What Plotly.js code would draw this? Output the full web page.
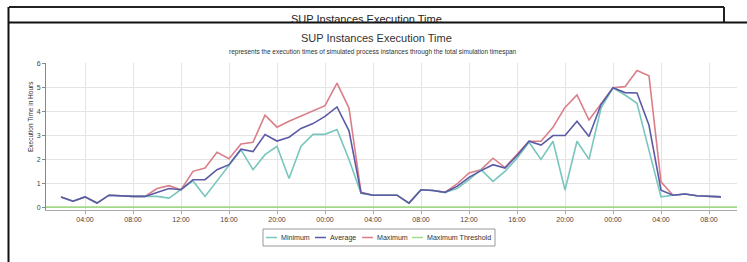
<!DOCTYPE html>
<html>
<head>
<meta charset="utf-8">
<script src="https://cdn.plot.ly/plotly-3.0.1.min.js"></script>
<style>html,body{margin:0;padding:0;background:#fff;}#chart{width:747px;height:262px;}</style>
</head>
<body>
<div id="chart"></div>
<script>
// ---- data ----
const times = [
'2020-01-01 02:00','2020-01-01 03:00','2020-01-01 04:00','2020-01-01 05:00','2020-01-01 06:00','2020-01-01 07:00',
'2020-01-01 08:00','2020-01-01 09:00','2020-01-01 10:00','2020-01-01 11:00','2020-01-01 12:00','2020-01-01 13:00',
'2020-01-01 14:00','2020-01-01 15:00','2020-01-01 16:00','2020-01-01 17:00','2020-01-01 18:00','2020-01-01 19:00',
'2020-01-01 20:00','2020-01-01 21:00','2020-01-01 22:00','2020-01-01 23:00',
'2020-01-02 00:00','2020-01-02 01:00','2020-01-02 02:00','2020-01-02 03:00','2020-01-02 04:00','2020-01-02 05:00',
'2020-01-02 06:00','2020-01-02 07:00','2020-01-02 08:00','2020-01-02 09:00','2020-01-02 10:00','2020-01-02 11:00',
'2020-01-02 12:00','2020-01-02 13:00','2020-01-02 14:00','2020-01-02 15:00','2020-01-02 16:00','2020-01-02 17:00',
'2020-01-02 18:00','2020-01-02 19:00','2020-01-02 20:00','2020-01-02 21:00','2020-01-02 22:00','2020-01-02 23:00',
'2020-01-03 00:00','2020-01-03 01:00','2020-01-03 02:00','2020-01-03 03:00','2020-01-03 04:00','2020-01-03 05:00',
'2020-01-03 06:00','2020-01-03 07:00','2020-01-03 08:00','2020-01-03 09:00'
];
const minimum = [
0.43,0.25,0.43,0.17,0.50,0.47,0.45,0.45,0.45,0.38,0.73,1.10,0.45,1.10,1.70,2.40,1.57,2.20,2.55,1.20,2.55,3.05,
3.05,3.25,2.00,0.58,0.50,0.50,0.50,0.17,0.73,0.70,0.62,0.78,1.15,1.57,1.08,1.50,2.05,2.72,2.00,2.76,0.72,2.76,2.00,4.15,
5.00,4.70,4.35,2.38,0.43,0.50,0.55,0.48,0.45,0.43
];
const average = [
0.43,0.25,0.43,0.17,0.50,0.47,0.45,0.45,0.62,0.78,0.73,1.15,1.15,1.57,1.78,2.43,2.33,3.04,2.77,2.93,3.30,3.50,
3.80,4.20,3.20,0.60,0.50,0.50,0.50,0.17,0.73,0.70,0.62,0.87,1.25,1.53,1.78,1.64,2.15,2.76,2.60,3.00,3.00,3.60,2.96,4.30,
5.00,4.80,4.78,3.43,0.71,0.50,0.55,0.48,0.45,0.43
];
const maximum = [
0.43,0.25,0.43,0.17,0.50,0.47,0.45,0.45,0.78,0.90,0.73,1.50,1.64,2.30,2.03,2.65,2.72,3.85,3.35,3.60,3.82,4.05,
4.25,5.20,4.15,0.62,0.50,0.50,0.50,0.17,0.73,0.70,0.62,0.97,1.43,1.57,2.05,1.66,2.20,2.76,2.76,3.35,4.18,4.70,3.65,4.35,
5.00,5.05,5.73,5.50,1.06,0.50,0.55,0.48,0.45,0.43
];
const thresholdTimes = ['2020-01-01 00:00','2020-01-03 12:00'];
const thresholdValues = [0, 0];
const seriesNames = ['Minimum','Average','Maximum','Maximum Threshold'];
const seriesColors = ['#78c6bc','#5b5aa6','#da7f89','#a3d98a'];
const yTicks = [0,1,2,3,4,5,6];

// ---- layout helpers (pixel -> paper) ----
const PL = 46, PR = 737, PT = 63, PB = 210;
const W = PR - PL, H = PB - PT;
const px = x => (x - PL) / W;
const py = y => (PB - y) / H;
const FONT = '"Liberation Sans", Arial, sans-serif';

const traces = [
  {x: times, y: maximum, name: seriesNames[2], mode: 'lines', line: {color: seriesColors[2], width: 1.6}},
  {x: times, y: minimum, name: seriesNames[0], mode: 'lines', line: {color: seriesColors[0], width: 1.6}},
  {x: times, y: average, name: seriesNames[1], mode: 'lines', line: {color: seriesColors[1], width: 1.6}},
  {x: thresholdTimes, y: thresholdValues, name: seriesNames[3], mode: 'lines', line: {color: seriesColors[3], width: 1.6}}
];

const shapes = [
  // outer box
  {type:'line', xref:'paper', yref:'paper', x0:px(9), x1:px(724), y0:py(7), y1:py(7), line:{color:'#222', width:2}},
  {type:'line', xref:'paper', yref:'paper', x0:px(724), x1:px(724), y0:py(7), y1:py(22.5), line:{color:'#222', width:2}},
  {type:'line', xref:'paper', yref:'paper', x0:px(8.5), x1:px(8.5), y0:py(7), y1:py(262), line:{color:'#111', width:2}},
  // inner panel top
  {type:'line', xref:'paper', yref:'paper', x0:px(8), x1:px(747), y0:py(22.5), y1:py(22.5), line:{color:'#111', width:2}},
  // legend box
  {type:'rect', xref:'paper', yref:'paper', x0:px(263), x1:px(495), y0:py(229), y1:py(246), line:{color:'#999', width:1}, fillcolor:'rgba(0,0,0,0)'}
];

const annotations = [
  {xref:'paper', yref:'paper', x:px(366), y:py(19), text:'SUP Instances Execution Time', showarrow:false,
   xanchor:'center', yanchor:'middle', font:{family:FONT, size:11, color:'#222'}},
  {xref:'paper', yref:'paper', x:px(366), y:py(23.6), text:' ', showarrow:false, xanchor:'center', yanchor:'top',
   width:220, height:10, bgcolor:'#ffffff', borderpad:0},
  {xref:'paper', yref:'paper', x:px(376), y:py(38), text:'SUP Instances Execution Time', showarrow:false,
   xanchor:'center', yanchor:'middle', font:{family:FONT, size:11, color:'#333'}},
  {xref:'paper', yref:'paper', x:px(373), y:py(52), text:'represents the execution times of simulated process instances through the total simulation timespan', showarrow:false,
   xanchor:'center', yanchor:'middle', font:{family:FONT, size:6.5, color:'#333'}},
  {xref:'paper', yref:'paper', x:px(30), y:py(117), text:'Execution Time in Hours', showarrow:false, textangle:-90,
   xanchor:'center', yanchor:'middle', font:{family:FONT, size:6.5, color:'#333'}}
];

// custom compact legend
const legendOrder = [0,1,2,3];
const legendLineX = [266, 315, 362, 412];
legendOrder.forEach((k, i) => {
  const lx = legendLineX[i];
  shapes.push({type:'line', xref:'paper', yref:'paper', x0:px(lx), x1:px(lx+11), y0:py(237.5), y1:py(237.5),
    line:{color: seriesColors[k], width:1.5}});
  annotations.push({xref:'paper', yref:'paper', x:px(lx+13), y:py(237.5), text: seriesNames[k], showarrow:false,
    xanchor:'left', yanchor:'middle', font:{family:FONT, size:7.1, color:'#333'}});
});

const layout = {
  width: 747, height: 262,
  margin: {l: PL, r: 747 - PR, t: PT, b: 262 - PB, pad: 0},
  paper_bgcolor: '#ffffff', plot_bgcolor: '#ffffff',
  showlegend: false,
  font: {family: FONT, size: 7, color: '#444'},
  xaxis: {
    type: 'date',
    range: ['2020-01-01 00:45', '2020-01-03 10:20'],
    tick0: '2020-01-01 00:00', dtick: 4 * 3600 * 1000,
    tickformat: '%H:%M',
    showgrid: true, gridcolor: '#e4e4e4', gridwidth: 1,
    showline: true, linecolor: '#aaa', linewidth: 1,
    ticks: 'outside', ticklen: 3, tickcolor: '#aaa',
    tickfont: {family: FONT, size: 7, color: '#444'},
    zeroline: false, fixedrange: true
  },
  yaxis: {
    range: [-0.12, 6.04],
    tickvals: yTicks,
    showgrid: true, gridcolor: '#e4e4e4', gridwidth: 1,
    showline: true, linecolor: '#888', linewidth: 1,
    ticks: 'outside', ticklen: 3, tickcolor: '#888',
    tickfont: {family: FONT, size: 7, color: '#444'},
    zeroline: false, fixedrange: true
  },
  shapes: shapes,
  annotations: annotations
};

Plotly.newPlot('chart', traces, layout, {displayModeBar: false, staticPlot: true});
</script>
</body>
</html>
